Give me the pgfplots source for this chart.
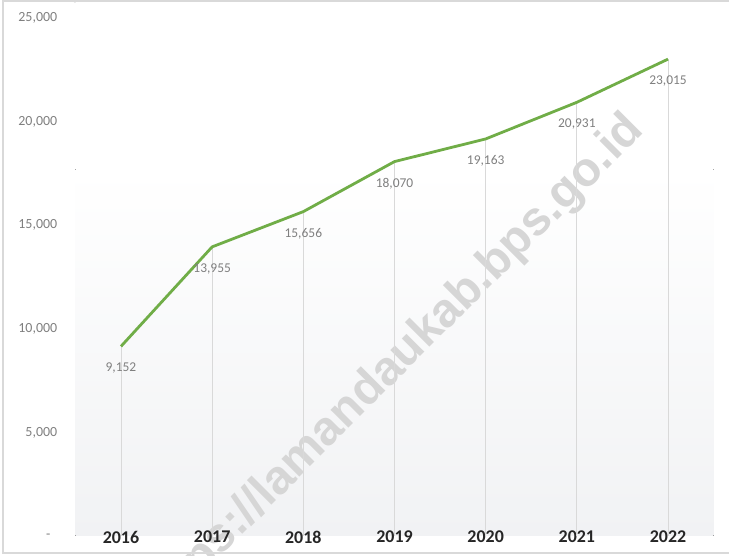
\documentclass[border=0pt]{standalone}
\usepackage{fontspec}
\setmainfont{Carlito}
\newfontfamily\wmfont{Liberation Sans}
\usepackage{pgfplots}
\pgfplotsset{compat=1.18}
\definecolor{lineGreen}{HTML}{70AD47}
\definecolor{labGray}{HTML}{7F7F7F}
\definecolor{yearDark}{HTML}{262626}
\definecolor{dropGray}{HTML}{D9D9D9}
\definecolor{areaLow}{HTML}{F1F2F4}
\definecolor{frameGray}{HTML}{D9D9D9}
\definecolor{wmGray}{HTML}{D6D6D6}

% tick labels above the plot layers, so the watermark stays behind them
\pgfplotsset{
  layers/labelsontop/.define layer set={
    axis background,axis grid,axis ticks,axis lines,pre main,main,
    axis tick labels,axis descriptions,axis foreground}{},
}

\begin{document}
\begin{tikzpicture}
  \begin{axis}[
    set layers=labelsontop,
    at={(75.4bp,20bp)}, anchor=south west,
    scale only axis, width=638.2bp, height=518bp,
    xmin=-0.5, xmax=6.5, ymin=0, ymax=25000,
    xtick={0,...,6},
    xticklabels={2016,2017,2018,2019,2020,2021,2022},
    ytick={0,5000,10000,15000,20000,25000},
    yticklabels={\makebox[11bp][l]{-},{5,000},{10,000},{15,000},{20,000},{25,000}},
    axis line style={draw=none},
    major tick length=0pt,
    yticklabel style={font=\fontsize{14}{16}\selectfont, text=labGray,
      anchor=east, inner sep=0pt, xshift=-18bp},
    xticklabel style={font=\fontsize{18}{20}\selectfont\bfseries, text=yearDark,
      anchor=center, inner sep=0pt, yshift=-1bp},
    clip=false,
  ]
    \begin{pgfonlayer}{axis background}
      % plot area shading
      \fill[top color=white, bottom color=areaLow, draw=none]
        (axis cs:-0.5,0) rectangle (axis cs:6.5,17700);
      % watermark
      \node[rotate=45, text=wmGray, inner sep=0pt,
        font=\wmfont\bfseries\fontsize{48}{50}\selectfont]
        at (axis cs:2.978,8132) {https://lamandaukab.bps.go.id};
    \end{pgfonlayer}

    % drop lines
    \addplot[ycomb, draw=dropGray, line width=0.75bp, mark=none, forget plot] coordinates {
      (0,9152) (1,13955) (2,15656) (3,18070) (4,19163) (5,20931) (6,23015)
    };

    \addplot[lineGreen, line width=2.8bp, mark=none,
      nodes near coords,
      nodes near coords style={anchor=center, yshift=-22bp, inner sep=0pt,
        font=\fontsize{13.5}{15}\selectfont, text=labGray,
        /pgf/number format/.cd, 1000 sep={,}, assume math mode=true}]
      coordinates {
      (0,9152) (1,13955) (2,15656) (3,18070) (4,19163) (5,20931) (6,23015)
    };
  \end{axis}

  % outer frame
  \draw[frameGray, line width=1.5bp]
    (729bp,3bp) -- (3bp,3bp) -- (3bp,555bp) -- (729bp,555bp);

  \pgfresetboundingbox
  \useasboundingbox (0,0) rectangle (729bp,556bp);
\end{tikzpicture}
\end{document}
